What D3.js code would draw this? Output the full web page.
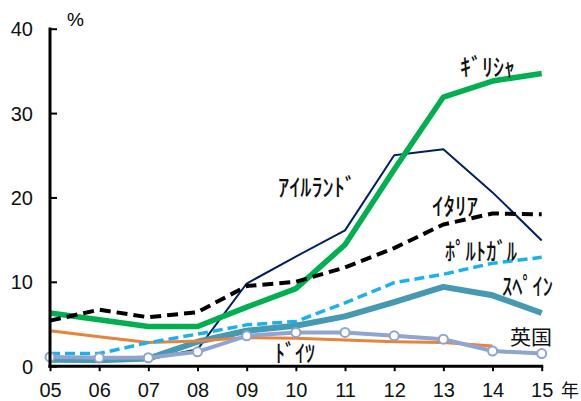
<!DOCTYPE html>
<html>
<head>
<meta charset="utf-8">
<script src="https://cdn.jsdelivr.net/npm/d3@7"></script>
<style>
  html, body { margin: 0; padding: 0; background: #fff; }
  svg { display: block; }
  .tick text { font-family: "Liberation Sans", Arial, sans-serif; font-size: 20px; fill: #111; }
  .jp { font-family: "Noto Sans CJK JP", sans-serif; fill: #111; }
</style>
</head>
<body>
<svg id="chart" width="581" height="401"></svg>
<script>
// Years on the x axis (2005–2015)
const years = ["05", "06", "07", "08", "09", "10", "11", "12", "13", "14", "15"];
const yTicks = [0, 10, 20, 30, 40];

// Series values, %
const greece   = [6.3, 5.5, 4.7, 4.7, 7.0, 9.2, 14.4, 23.3, 31.9, 33.8, 34.7];
const ireland  = [0.6, 0.6, 0.8, 2.0, 9.8, 13.0, 16.1, 25.0, 25.7, 20.6, 14.9];
const italy    = [5.4, 6.7, 5.8, 6.4, 9.5, 10.0, 11.7, 14.0, 16.8, 18.1, 18.0];
const portugal = [1.5, 1.5, 2.8, 3.8, 4.9, 5.3, 7.5, 9.9, 10.9, 12.2, 12.9];
const spain    = [0.8, 0.7, 0.9, 2.9, 4.2, 4.8, 5.9, 7.6, 9.4, 8.4, 6.3];
const uk       = [4.2, 3.5, 2.8, 3.0, 3.4, 3.3, 3.1, 2.9, 2.8, 2.4];
const germany  = [1.1, 1.0, 1.0, 1.7, 3.6, 4.0, 4.0, 3.6, 3.2, 1.8, 1.5];

const svg = d3.select("#chart");

const x = d3.scalePoint().domain(years).range([50, 541.7]);
const y = d3.scaleLinear().domain([0, 40]).range([366.2, 28.7]);

const line = d3.line()
  .x((d, i) => x(years[i]))
  .y(d => y(d));

// Series styles, drawn back to front
const series = [
  { values: ireland,  color: "#002060", width: 2 },
  { values: spain,    color: "#4599b0", width: 6 },
  { values: uk,       color: "#e8833a", width: 3 },
  { values: greece,   color: "#00b050", width: 5.5 },
  { values: portugal, color: "#19b2ee", width: 3.5, dash: "10,5" },
  { values: italy,    color: "#000000", width: 4, dash: "11,6" },
  { values: germany,  color: "#8fa4cf", width: 4, markers: true }
];

series.forEach(s => {
  svg.append("path")
    .datum(s.values)
    .attr("d", line)
    .attr("fill", "none")
    .attr("stroke", s.color)
    .attr("stroke-width", s.width)
    .attr("stroke-dasharray", s.dash || null)
    .attr("stroke-linejoin", "round");
  if (s.markers) {
    svg.append("g").selectAll("circle")
      .data(s.values)
      .join("circle")
      .attr("cx", (d, i) => x(years[i]))
      .attr("cy", d => y(d))
      .attr("r", 4.5)
      .attr("fill", "#fff")
      .attr("stroke", s.color)
      .attr("stroke-width", 2);
  }
});

// Axes
const xAxis = d3.axisBottom(x).tickSize(5).tickPadding(12);
const gx = svg.append("g").attr("transform", "translate(0,366.2)").call(xAxis);
gx.select(".domain").attr("stroke", "#000").attr("stroke-width", 3).attr("d", "M48.5,0H543.2");
gx.selectAll(".tick line").attr("stroke", "#000").attr("stroke-width", 2);

const yAxis = d3.axisLeft(y).tickValues(yTicks).tickSize(-7).tickPadding(17);
const gy = svg.append("g").attr("transform", "translate(50,0)").call(yAxis);
gy.select(".domain").attr("stroke", "#000").attr("stroke-width", 3).attr("d", "M0,27.5V367.7");
gy.selectAll(".tick line").attr("stroke", "#000").attr("stroke-width", 2);
gy.selectAll(".tick text").attr("dy", "0.35em");

// Unit labels
svg.append("text").attr("x", 67).attr("y", 26)
  .style("font-family", "Liberation Sans, Arial, sans-serif").style("font-size", "19px").text("%");
svg.append("text").attr("class", "jp").attr("x", 561).attr("y", 397)
  .style("font-size", "18px").text("年");

// Series labels
const labels = [
  { text: "ｷﾞﾘｼｬ",     x: 460, y: 65,  w: 55, size: 24, weight: 500 },
  { text: "ｱｲﾙﾗﾝﾄﾞ",   x: 278, y: 185, w: 78, size: 24, weight: 500 },
  { text: "ｲﾀﾘｱ",      x: 432, y: 204, w: 46, size: 24, weight: 500 },
  { text: "ﾎﾟﾙﾄｶﾞﾙ",   x: 445, y: 249, w: 72, size: 24, weight: 500 },
  { text: "ｽﾍﾟｲﾝ",     x: 502, y: 284, w: 51, size: 24, weight: 500 },
  { text: "ﾄﾞｲﾂ",      x: 275, y: 351, w: 40, size: 24, weight: 500 },
  { text: "英国",      x: 510, y: 336, w: 42, size: 20, weight: 400 }
];
svg.append("g").selectAll("text")
  .data(labels)
  .join("text")
  .attr("class", "jp")
  .attr("x", d => d.x)
  .attr("y", d => d.y)
  .attr("dominant-baseline", "central")
  .attr("textLength", d => d.w)
  .attr("lengthAdjust", "spacingAndGlyphs")
  .style("font-size", d => d.size + "px")
  .style("font-weight", d => d.weight)
  .text(d => d.text);
</script>
</body>
</html>
